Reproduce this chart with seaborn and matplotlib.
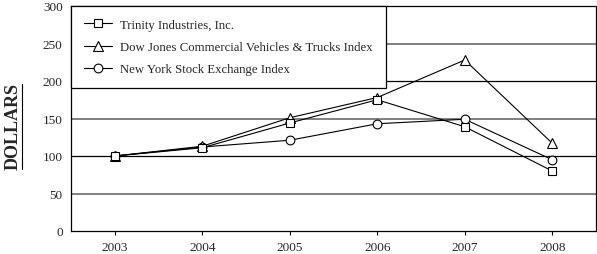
import matplotlib
matplotlib.use("Agg")
import matplotlib.pyplot as plt
import seaborn as sns
import pandas as pd
from matplotlib.lines import Line2D

years = [2003, 2004, 2005, 2006, 2007, 2008]
trinity = [100, 111, 144, 175, 139, 80]
dow_jones = [100, 113, 151, 178, 228, 117]
nyse = [100, 112, 121, 143, 149, 95]
series_names = ["Trinity Industries, Inc.",
                "Dow Jones Commercial Vehicles & Trucks Index",
                "New York Stock Exchange Index"]
y_ticks = [0, 50, 100, 150, 200, 250, 300]

sns.set_theme(style="white")
plt.rcParams['font.family'] = ['Liberation Serif', 'DejaVu Serif']

fig = plt.figure(figsize=(5.97, 2.55), dpi=100)
ax = fig.add_axes([71/597, 23/255, 525/597, 225/255])

# gridlines
for v in y_ticks[1:-1]:
    if v % 100 == 0:
        ax.axhline(v, color="black", lw=0.9, zorder=0.5)
    else:
        ax.axhline(v, color="#808080", lw=1.4, zorder=0.5)

markers = {series_names[0]: "s", series_names[1]: "^", series_names[2]: "o"}
msizes = {"s": 6.0, "^": 7.8, "o": 6.3}
data = {series_names[0]: trinity, series_names[1]: dow_jones, series_names[2]: nyse}
order_draw = [series_names[2], series_names[1], series_names[0]]
handles = {}
for i, name in enumerate(order_draw):
    df = pd.DataFrame({"year": years, "value": data[name]})
    m = markers[name]
    sns.lineplot(data=df, x="year", y="value", ax=ax, color="black", lw=0.8,
                 marker=m, markersize=msizes[m],
                 markerfacecolor="white", markeredgecolor="black",
                 markeredgewidth=0.8, zorder=3 + i, legend=False)
    handles[name] = Line2D([], [], color="black", lw=0.8, marker=m,
                           markersize=msizes[m],
                           markerfacecolor="white", markeredgecolor="black",
                           markeredgewidth=0.8)

ax.set_xlim(2002.5, 2008.5)
ax.set_ylim(0, 300)
ax.set_xticks(years)
ax.set_xticklabels([str(y) for y in years])
ax.set_yticks(y_ticks)
ax.set_xlabel("")
ax.set_ylabel("")
ax.tick_params(axis="x", direction="out", length=3, width=0.8, color="black",
               labelsize=9.5, pad=4, bottom=True)
ax.tick_params(axis="y", length=0, labelsize=9.5, pad=6)
for s in ax.spines.values():
    s.set_color("black")
    s.set_linewidth(0.9)
    s.set_visible(True)

leg = ax.legend([handles[n] for n in series_names], series_names,
                loc="upper left", bbox_to_anchor=(0, 1), borderaxespad=0,
                frameon=True, fancybox=False, fontsize=9.2, handlelength=2.2,
                handletextpad=0.65, labelspacing=0.8, borderpad=1.0,
                edgecolor="black", framealpha=1)
leg.get_frame().set_linewidth(0.9)
leg.set_zorder(10)

fig.text(13/597, 1 - 127/255, "DOLLARS", rotation=90, fontsize=13,
         fontweight="bold", ha="center", va="center")
fig.add_artist(Line2D([22/597, 22/597], [1 - 85/255, 1 - 170/255],
                      color="black", lw=0.8, transform=fig.transFigure))

fig.savefig("out.png", dpi=100)
